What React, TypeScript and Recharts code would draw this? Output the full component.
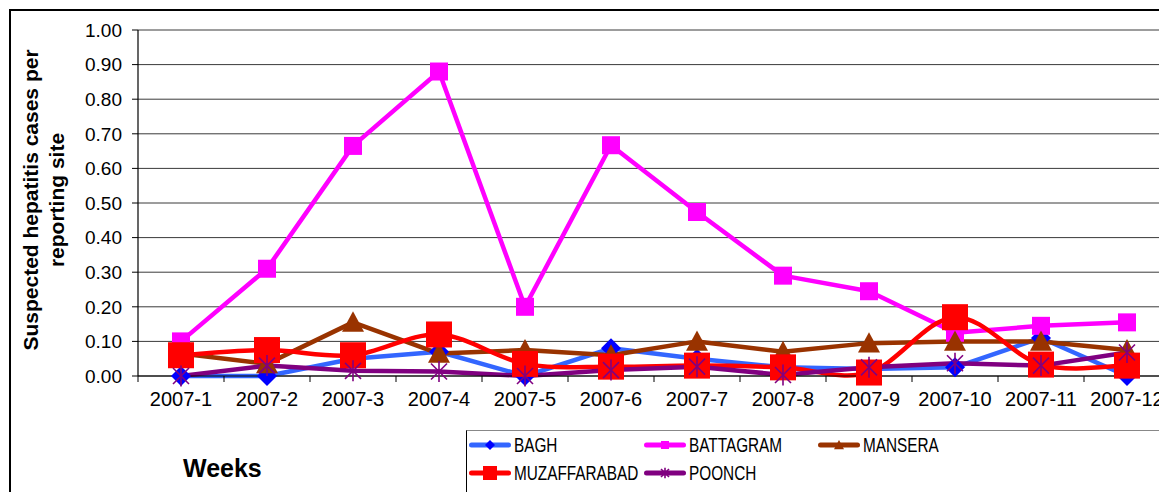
import React from 'react';
import { LineChart, Line, XAxis, YAxis, CartesianGrid, Legend } from 'recharts';

const weeks = ['2007-1', '2007-2', '2007-3', '2007-4', '2007-5', '2007-6', '2007-7', '2007-8', '2007-9', '2007-10', '2007-11', '2007-12'];
const bagh = [0, 0, 0.05, 0.07, 0, 0.08, 0.05, 0.025, 0.02, 0.025, 0.11, 0];
const battagram = [0.10, 0.31, 0.665, 0.88, 0.20, 0.667, 0.474, 0.29, 0.245, 0.125, 0.145, 0.155];
const mansera = [0.065, 0.035, 0.155, 0.065, 0.075, 0.06, 0.10, 0.07, 0.095, 0.10, 0.10, 0.075];
const muzaffarabad = [0.06, 0.075, 0.06, 0.12, 0.035, 0.027, 0.03, 0.025, 0.01, 0.17, 0.033, 0.03];
const poonch = [0, 0.03, 0.015, 0.013, 0, 0.017, 0.027, 0.003, 0.025, 0.037, 0.03, 0.068];
const yTicks = [0, 0.1, 0.2, 0.3, 0.4, 0.5, 0.6, 0.7, 0.8, 0.9, 1.0];

const data = weeks.map((w, i) => ({
  week: w,
  BAGH: bagh[i],
  BATTAGRAM: battagram[i],
  MANSERA: mansera[i],
  MUZAFFARABAD: muzaffarabad[i],
  POONCH: poonch[i],
}));

const FONT = '"Liberation Sans", Arial, Helvetica, sans-serif';

type Kind = 'diamond' | 'square' | 'triangle' | 'bigsquare' | 'star';

const series: { key: string; line: string; marker: string; kind: Kind; smooth?: boolean }[] = [
  { key: 'BAGH', line: '#3366FF', marker: '#0000FF', kind: 'diamond' },
  { key: 'BATTAGRAM', line: '#FF00FF', marker: '#FF00FF', kind: 'square' },
  { key: 'MANSERA', line: '#993300', marker: '#993300', kind: 'triangle' },
  { key: 'MUZAFFARABAD', line: '#FF0000', marker: '#FF0000', kind: 'bigsquare', smooth: true },
  { key: 'POONCH', line: '#800080', marker: '#800080', kind: 'star' },
];

const chartSizes: Record<Kind, number> = { diamond: 10, square: 9, triangle: 11, bigsquare: 13, star: 10 };
const legendSizes: Record<Kind, number> = { diamond: 5, square: 4, triangle: 5, bigsquare: 7, star: 5 };

function marker(kind: Kind, cx: number, cy: number, r: number, color: string, key?: string) {
  if (kind === 'diamond') {
    return <polygon key={key} points={`${cx},${cy - r} ${cx + r},${cy} ${cx},${cy + r} ${cx - r},${cy}`} fill={color} />;
  }
  if (kind === 'square' || kind === 'bigsquare') {
    return <rect key={key} x={cx - r} y={cy - r} width={2 * r} height={2 * r} fill={color} />;
  }
  if (kind === 'triangle') {
    return <polygon key={key} points={`${cx},${cy - r} ${cx + r},${cy + r * 0.85} ${cx - r},${cy + r * 0.85}`} fill={color} />;
  }
  const d = r * 0.8;
  return (
    <g key={key} stroke={color} strokeWidth={1.6}>
      <line x1={cx - d} y1={cy - d} x2={cx + d} y2={cy + d} />
      <line x1={cx - d} y1={cy + d} x2={cx + d} y2={cy - d} />
      <line x1={cx} y1={cy - r * 1.05} x2={cx} y2={cy + r * 1.05} />
    </g>
  );
}

// Catmull-Rom style smoothing similar to Excel's smoothed line
function smoothCurve(context: any) {
  let pts: number[][] = [];
  return {
    areaStart() {},
    areaEnd() {},
    lineStart() {
      pts = [];
    },
    point(x: number, y: number) {
      pts.push([+x, +y]);
    },
    lineEnd() {
      const n = pts.length;
      if (!n) return;
      context.moveTo(pts[0][0], pts[0][1]);
      for (let i = 0; i < n - 1; i++) {
        const p0 = pts[Math.max(i - 1, 0)];
        const p1 = pts[i];
        const p2 = pts[i + 1];
        const p3 = pts[Math.min(i + 2, n - 1)];
        context.bezierCurveTo(
          p1[0] + (p2[0] - p0[0]) / 6,
          p1[1] + (p2[1] - p0[1]) / 6,
          p2[0] - (p3[0] - p1[0]) / 6,
          p2[1] - (p3[1] - p1[1]) / 6,
          p2[0],
          p2[1]
        );
      }
    },
  };
}

const X_TICK_GAP = 16;

const XTick = (props: any) => {
  const { x, y, payload, index } = props;
  const bandHalf = (props.width ? props.width / weeks.length : 86) / 2;
  const axisY = y - X_TICK_GAP;
  return (
    <g>
      <text x={x} y={y} dy="0.71em" textAnchor="middle" fontSize={20} fontFamily={FONT} fill="#000">
        {payload.value}
      </text>
      <line x1={x + bandHalf} x2={x + bandHalf} y1={axisY} y2={axisY + 6} stroke="#000" strokeWidth={1} />
      {index === 0 && <line x1={x - bandHalf} x2={x - bandHalf} y1={axisY} y2={axisY + 6} stroke="#000" strokeWidth={1} />}
    </g>
  );
};

const YLabel = (props: any) => {
  const vb = props.viewBox || { y: 22, height: 346 };
  const cy = vb.y + vb.height / 2 - 3;
  return (
    <g transform={`translate(22, ${cy}) rotate(-90)`}>
      <text textAnchor="middle" dominantBaseline="central" fontFamily={FONT} fontWeight="bold" fontSize={21} fill="#000">
        <tspan x={0} y={0}>Suspected hepatitis cases per</tspan>
        <tspan x={0} y={26}>reporting site</tspan>
      </text>
    </g>
  );
};

const LegendBox = () => (
  <div
    style={{
      position: 'relative',
      width: 760,
      height: 100,
      boxSizing: 'border-box',
      borderLeft: '1px solid #000',
      borderTop: '1px solid #888',
      background: '#fff',
    }}
  >
    {series.map((s, i) => {
      const col = i % 3;
      const row = Math.floor(i / 3);
      return (
        <div
          key={s.key}
          style={{ position: 'absolute', left: 2 + col * 174.5, top: 4 + row * 28, height: 20, display: 'flex', alignItems: 'center' }}
        >
          <svg width={42} height={20} style={{ display: 'block', flex: 'none' }}>
            <line x1={2.5} x2={39.5} y1={10} y2={10} stroke={s.line} strokeWidth={5} strokeLinecap="round" />
            {marker(s.kind, 21, 10, legendSizes[s.kind], s.marker)}
          </svg>
          <span
            style={{
              display: 'inline-block',
              marginLeft: 3,
              fontFamily: FONT,
              fontSize: '21px',
              lineHeight: '20px',
              color: '#000',
              transform: 'scaleX(0.73)',
              transformOrigin: 'left center',
              whiteSpace: 'nowrap',
            }}
          >
            {s.key}
          </span>
        </div>
      );
    })}
  </div>
);

export default function App() {
  return (
    <div style={{ position: 'relative', width: 1159, height: 484, overflow: 'hidden', background: '#fff' }}>
      <div
        style={{
          position: 'absolute',
          left: 1,
          top: 1,
          width: 3000,
          height: 3000,
          border: '2px solid #000',
        }}
      />
      <div style={{ position: 'absolute', left: 0, top: 0 }}>
        <LineChart width={1162} height={484} data={data} margin={{ top: 22, right: 0, left: 0, bottom: 76 }}>
          <CartesianGrid horizontal vertical={false} stroke="#3a3a3a" strokeWidth={1} />
          <XAxis
            dataKey="week"
            scale="band"
            interval={0}
            height={40}
            tickSize={0}
            tickMargin={X_TICK_GAP}
            tickLine={false}
            axisLine={{ stroke: '#000', strokeWidth: 1.2 }}
            tick={<XTick />}
          />
          <YAxis
            width={130}
            domain={[0, 1]}
            ticks={yTicks}
            interval={0}
            tickFormatter={(v: number) => v.toFixed(2)}
            tickSize={6}
            tickMargin={10}
            tickLine={{ stroke: '#000' }}
            axisLine={{ stroke: '#000', strokeWidth: 1.2 }}
            tick={{ fontSize: 19, fill: '#000', fontFamily: FONT }}
            label={{ content: <YLabel /> }}
          />
          {series.map((s) => (
            <Line
              key={s.key}
              dataKey={s.key}
              type={(s.smooth ? (smoothCurve as any) : 'linear') as any}
              stroke={s.line}
              strokeWidth={4.5}
              strokeLinejoin="round"
              activeDot={false}
              isAnimationActive={false}
              dot={(p: any) => marker(s.kind, p.cx, p.cy, chartSizes[s.kind], s.marker, `${s.key}-${p.index}`)}
            />
          ))}
          <Legend
            layout="horizontal"
            verticalAlign="middle"
            align="center"
            content={<LegendBox />}
            wrapperStyle={{ left: 458, top: 422, width: 760, height: 100 }}
          />
        </LineChart>
      </div>
      <div
        style={{
          position: 'absolute',
          left: 175,
          top: 448,
          fontFamily: FONT,
          fontWeight: 'bold',
          fontSize: 25,
          lineHeight: '25px',
          color: '#000',
          whiteSpace: 'nowrap',
        }}
      >
        Weeks
      </div>
    </div>
  );
}
